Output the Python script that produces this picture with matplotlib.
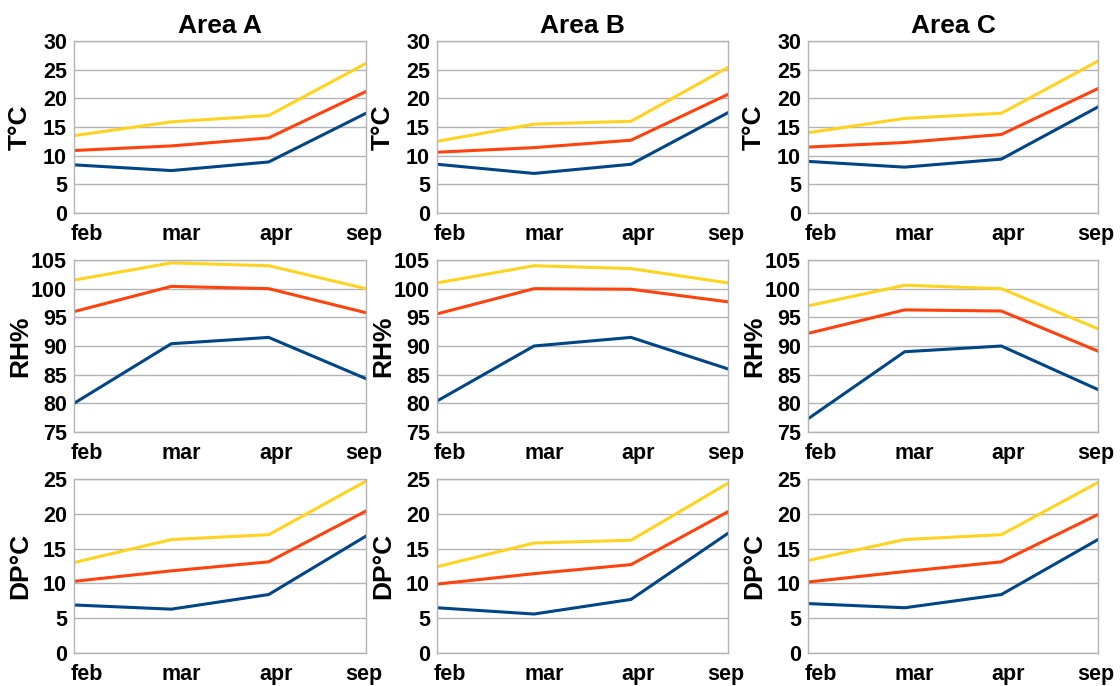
import matplotlib
matplotlib.use("Agg")
import matplotlib.pyplot as plt
from matplotlib.transforms import ScaledTranslation

months = ["feb", "mar", "apr", "sep"]
areas = ["Area A", "Area B", "Area C"]

# T°C
t_A_high = [13.5, 15.9, 17.0, 26.1]
t_A_mid = [10.9, 11.7, 13.1, 21.2]
t_A_low = [8.4, 7.4, 8.9, 17.4]
t_B_high = [12.5, 15.5, 16.0, 25.4]
t_B_mid = [10.6, 11.4, 12.7, 20.7]
t_B_low = [8.5, 6.9, 8.5, 17.5]
t_C_high = [14.0, 16.5, 17.4, 26.5]
t_C_mid = [11.5, 12.3, 13.7, 21.7]
t_C_low = [9.0, 8.0, 9.4, 18.5]

# RH%
rh_A_high = [101.5, 104.5, 104.0, 100.0]
rh_A_mid = [96.0, 100.4, 100.0, 95.8]
rh_A_low = [80.0, 90.4, 91.5, 84.3]
rh_B_high = [101.0, 104.0, 103.5, 101.0]
rh_B_mid = [95.6, 100.0, 99.9, 97.7]
rh_B_low = [80.4, 90.0, 91.5, 86.0]
rh_C_high = [97.0, 100.6, 100.0, 93.0]
rh_C_mid = [92.2, 96.3, 96.1, 89.1]
rh_C_low = [77.3, 89.0, 90.0, 82.4]

# DP°C
dp_A_high = [13.0, 16.3, 17.0, 24.7]
dp_A_mid = [10.3, 11.8, 13.1, 20.4]
dp_A_low = [6.9, 6.3, 8.4, 16.8]
dp_B_high = [12.4, 15.8, 16.2, 24.4]
dp_B_mid = [9.9, 11.4, 12.7, 20.3]
dp_B_low = [6.5, 5.6, 7.7, 17.2]
dp_C_high = [13.3, 16.3, 17.0, 24.5]
dp_C_mid = [10.2, 11.7, 13.1, 19.9]
dp_C_low = [7.1, 6.5, 8.4, 16.3]

row_labels = ["T°C", "RH%", "DP°C"]
row_limits = [(0, 30), (75, 105), (0, 25)]
data = [
    [(t_A_high, t_A_mid, t_A_low), (t_B_high, t_B_mid, t_B_low), (t_C_high, t_C_mid, t_C_low)],
    [(rh_A_high, rh_A_mid, rh_A_low), (rh_B_high, rh_B_mid, rh_B_low), (rh_C_high, rh_C_mid, rh_C_low)],
    [(dp_A_high, dp_A_mid, dp_A_low), (dp_B_high, dp_B_mid, dp_B_low), (dp_C_high, dp_C_mid, dp_C_low)],
]
colors = ["#ffd320", "#ff420e", "#004586"]

plt.rcParams['font.family'] = ['Liberation Sans', 'DejaVu Sans']
plt.rcParams['font.weight'] = 'bold'

fig = plt.figure(figsize=(11.2, 6.86), dpi=100)
W, H = 1120, 686
col_x = [(74, 366), (437, 728), (808, 1098)]
row_y = [(41, 213), (260, 432), (479, 653)]
label_shift_px = [13, 10, 7, -2]  # horizontal nudge of category labels

for r in range(3):
    for c in range(3):
        x0, x1 = col_x[c]
        y0, y1 = row_y[r]
        ax = fig.add_axes([x0 / W, 1 - y1 / H, (x1 - x0) / W, (y1 - y0) / H])
        for series, col in zip(data[r][c], colors):
            ax.plot(range(len(months)), series, color=col, lw=2.2, solid_joinstyle='miter')
        ax.set_xlim(0, len(months) - 1)
        ax.set_ylim(*row_limits[r])
        ax.set_yticks(range(row_limits[r][0], row_limits[r][1] + 1, 5))
        ax.set_xticks(range(len(months)))
        ax.set_xticklabels(months)
        ax.tick_params(length=0, labelsize=15.5)
        ax.tick_params(axis='x', pad=8)
        ax.tick_params(axis='y', pad=5)
        for lab in ax.get_xticklabels() + ax.get_yticklabels():
            lab.set_fontweight('bold')
        for tick, dx in zip(ax.xaxis.get_major_ticks(), label_shift_px):
            tick.label1.set_transform(tick.label1.get_transform()
                                      + ScaledTranslation(dx / 100, 0, fig.dpi_scale_trans))
        ax.grid(axis='y', color='#b3b3b3', lw=1)
        ax.set_axisbelow(True)
        for s in ax.spines.values():
            s.set_color('#b3b3b3')
            s.set_linewidth(1)
        ax.set_ylabel(row_labels[r], fontsize=19, fontweight='bold')
        ax.yaxis.set_label_coords(-42 / (x1 - x0), 0.5)
        if r == 0:
            ax.set_title(areas[c], fontsize=19, fontweight='bold', pad=6)

fig.savefig("out.png", dpi=100)
